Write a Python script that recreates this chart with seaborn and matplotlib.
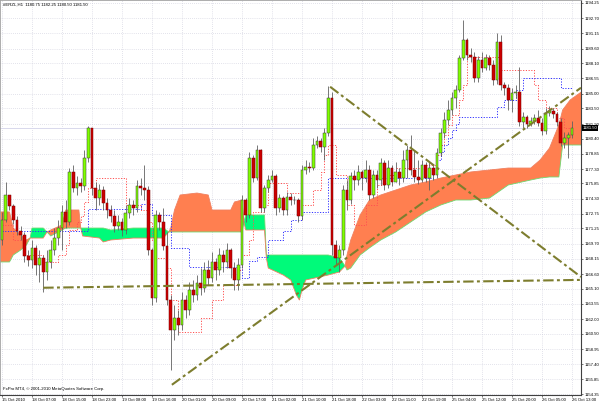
"""
Hourly candlestick chart with an Ichimoku cloud, redrawn from a trading terminal screenshot.
"""

import numpy as np
import pandas as pd
import matplotlib
matplotlib.use("Agg")
import matplotlib.pyplot as plt
import matplotlib.transforms as mtransforms
import seaborn as sns

# Header / footer texts
SYMBOL_TEXT = "#ERZL,H1  1180.75 1182.25 1180.50 1181.50"
COPYRIGHT_TEXT = "FxPro MT4, \u00a9 2001-2010 MetaQuotes Software Corp."

# Candles (one per hour); each open is the previous close
FIRST_OPEN = 1170.1
CLOSES = [
    1172.1, 1174.7, 1173.5, 1172.1, 1171.0, 1170.6, 1168.4, 1168.0, 1169.3, 1167.5,
    1168.2, 1166.8, 1167.8, 1169.1, 1170.3, 1171.3, 1172.9, 1171.9, 1177.0, 1175.4,
    1175.9, 1175.6, 1178.4, 1181.5, 1175.4, 1174.4, 1175.2, 1173.8, 1173.1, 1172.5,
    1171.5, 1171.9, 1171.1, 1172.8, 1173.6, 1173.3, 1175.6, 1175.4, 1175.2, 1169.1,
    1164.2, 1172.6, 1171.9, 1169.5, 1164.0, 1160.9, 1162.1, 1161.4, 1164.0, 1162.9,
    1165.0, 1164.5, 1165.7, 1165.2, 1167.0, 1166.2, 1167.8, 1167.0, 1168.5, 1167.8,
    1169.1, 1167.2, 1166.0, 1167.5, 1174.2, 1172.6, 1178.4, 1176.4, 1179.2, 1173.3,
    1175.4, 1176.2, 1176.6, 1173.3, 1174.4, 1173.1, 1174.5, 1174.1, 1174.2, 1172.5,
    1177.2, 1177.5, 1177.4, 1179.8, 1180.2, 1179.6, 1181.0, 1184.6, 1169.6, 1168.2,
    1169.1, 1175.2, 1174.2, 1176.6, 1176.2, 1177.0, 1176.4, 1177.2, 1174.7, 1176.7,
    1176.2, 1177.9, 1175.7, 1177.4, 1176.0, 1177.0, 1176.4, 1178.2, 1179.2, 1177.2,
    1176.5, 1176.2, 1177.7, 1176.4, 1177.4, 1176.7, 1178.9, 1181.0, 1182.3, 1183.3,
    1184.6, 1185.4, 1188.6, 1190.5, 1188.9, 1188.7, 1186.6, 1188.4, 1187.6, 1188.6,
    1187.9, 1186.4, 1190.3, 1185.9, 1185.6, 1184.4, 1185.1, 1185.2, 1182.1, 1182.6,
    1181.9, 1182.2, 1182.5, 1182.0, 1181.2, 1183.0, 1183.2, 1182.9, 1182.1, 1180.0,
    1180.5, 1180.75, 1181.5,
]
HIGHS = [
    1172.9, 1176.0, 1174.7, 1173.7, 1172.5, 1171.5, 1170.9, 1169.1, 1170.1, 1169.6,
    1169.1, 1168.5, 1169.1, 1170.1, 1171.3, 1172.1, 1173.6, 1174.2, 1177.4, 1177.7,
    1176.6, 1176.4, 1179.2, 1181.7, 1181.5, 1176.0, 1175.8, 1175.6, 1174.4, 1173.6,
    1173.1, 1172.6, 1172.3, 1173.6, 1174.4, 1174.2, 1176.2, 1176.4, 1177.7, 1175.6,
    1169.3, 1173.1, 1172.9, 1173.3, 1170.9, 1164.5, 1163.4, 1162.9, 1164.8, 1164.5,
    1165.8, 1166.0, 1166.5, 1167.2, 1167.8, 1168.0, 1168.8, 1168.2, 1169.3, 1169.1,
    1169.8, 1169.3, 1167.8, 1168.2, 1174.7, 1174.4, 1179.0, 1178.7, 1179.8, 1179.4,
    1175.7, 1176.7, 1177.2, 1176.8, 1174.8, 1174.6, 1175.0, 1174.9, 1174.6, 1174.4,
    1177.7, 1178.2, 1178.0, 1180.5, 1180.7, 1180.5, 1181.5, 1185.8, 1185.2, 1170.1,
    1169.6, 1175.7, 1176.2, 1177.0, 1177.2, 1177.7, 1177.2, 1178.2, 1177.7, 1177.2,
    1177.2, 1178.4, 1178.2, 1178.2, 1177.7, 1178.0, 1177.4, 1179.2, 1179.8, 1180.8,
    1179.2, 1178.2, 1178.2, 1178.0, 1178.0, 1177.7, 1179.5, 1181.5, 1183.1, 1184.4,
    1185.2, 1185.9, 1188.9, 1192.5, 1190.7, 1189.7, 1189.2, 1188.8, 1189.2, 1189.0,
    1188.9, 1188.4, 1191.2, 1191.0, 1186.2, 1186.0, 1185.6, 1185.9, 1187.7, 1183.1,
    1182.8, 1182.6, 1182.9, 1183.3, 1182.5, 1183.5, 1183.7, 1183.5, 1183.1, 1182.5,
    1181.1, 1181.1, 1182.25,
]
LOWS = [
    1169.6, 1171.9, 1173.1, 1171.7, 1170.6, 1170.1, 1167.8, 1167.4, 1167.2, 1166.5,
    1165.8, 1164.8, 1166.0, 1167.2, 1168.5, 1169.6, 1169.1, 1171.3, 1171.6, 1175.0,
    1174.7, 1175.0, 1175.2, 1178.0, 1174.7, 1173.1, 1173.6, 1173.1, 1172.3, 1171.9,
    1170.9, 1171.1, 1170.5, 1170.7, 1172.3, 1172.6, 1172.9, 1174.7, 1174.2, 1168.5,
    1163.4, 1163.7, 1171.1, 1169.1, 1163.4, 1156.8, 1159.9, 1160.4, 1160.9, 1162.1,
    1162.4, 1163.7, 1164.0, 1164.5, 1164.8, 1165.5, 1165.8, 1166.0, 1166.5, 1166.8,
    1167.2, 1166.2, 1165.0, 1165.0, 1167.2, 1171.9, 1172.3, 1176.0, 1176.2, 1172.9,
    1172.9, 1175.0, 1176.0, 1172.6, 1172.9, 1172.6, 1172.6, 1173.6, 1173.7, 1171.9,
    1172.1, 1176.8, 1177.0, 1177.2, 1179.5, 1179.0, 1178.2, 1180.7, 1168.5, 1167.5,
    1166.8, 1168.5, 1173.1, 1173.7, 1175.2, 1175.7, 1175.2, 1176.0, 1174.2, 1174.4,
    1175.4, 1175.7, 1175.2, 1175.4, 1175.6, 1176.4, 1175.7, 1176.0, 1176.4, 1176.7,
    1176.0, 1175.8, 1176.0, 1176.0, 1175.2, 1176.2, 1176.4, 1178.6, 1180.5, 1181.8,
    1182.8, 1183.5, 1185.2, 1188.4, 1188.4, 1188.2, 1186.2, 1186.2, 1187.2, 1187.4,
    1187.4, 1185.9, 1186.0, 1185.4, 1184.9, 1183.3, 1183.1, 1184.6, 1181.7, 1181.5,
    1181.5, 1181.7, 1181.9, 1181.7, 1180.8, 1180.9, 1182.7, 1182.5, 1181.7, 1179.7,
    1179.5, 1178.4, 1180.5,
]

# Tenkan-sen (red dotted) and Kijun-sen (blue dotted): bar where a level starts, level
TENKAN_BARS = [0, 3, 6, 11, 15, 17, 18, 20, 21, 22, 23, 25, 33, 37, 39, 40, 41, 44, 45, 47,
               53, 56, 59, 63, 64, 66, 67, 70, 71, 76, 80, 83, 85, 86, 87, 89, 92, 94, 97, 100,
               102, 105, 113, 116, 117, 118, 119, 120, 122, 123, 124, 133, 142, 143, 145, 148, 150]
TENKAN_VALUES = [1171.6, 1170.1, 1168.5, 1167.8, 1168.5, 1169.6, 1171.1, 1171.9, 1172.5, 1173.9,
                 1175.4, 1176.4, 1173.6, 1173.1, 1171.9, 1170.1, 1168.2, 1167.2, 1164.0, 1160.7,
                 1162.1, 1164.0, 1165.5, 1167.0, 1168.5, 1170.1, 1172.9, 1173.6, 1175.9, 1174.9,
                 1173.6, 1175.2, 1177.0, 1178.7, 1179.8, 1176.7, 1173.6, 1171.6, 1173.6, 1175.7,
                 1176.7, 1177.4, 1177.7, 1178.7, 1179.8, 1180.8, 1181.8, 1182.8, 1184.4, 1185.9,
                 1188.7, 1187.4, 1185.9, 1184.4, 1183.5, 1182.5, 1181.5]
KIJUN_BARS = [0, 23, 37, 40, 45, 50, 64, 66, 68, 71, 75, 77, 80, 87, 115, 116, 117, 118, 119,
              120, 121, 122, 132, 134, 137, 139, 149]
KIJUN_VALUES = [1171.0, 1173.2, 1173.7, 1172.6, 1169.3, 1167.3, 1166.2, 1167.9, 1168.3, 1170.1,
                1171.0, 1172.1, 1172.9, 1176.4, 1177.2, 1178.2, 1179.0, 1179.8, 1180.5,
                1181.3, 1181.9, 1182.6, 1183.6, 1184.35, 1185.4, 1186.6, 1185.6]

# Senkou spans (cloud), sampled at these bar positions
CLOUD_BARS = [-0.6, 2, 3, 5, 6.5, 7.5, 8, 11, 12, 13, 16, 17, 20.5, 21, 21.5, 26, 27, 29, 35, 43,
              44.5, 45, 46, 47.5, 52, 55, 56, 61, 62, 64, 64.5, 65, 70, 70.5, 71, 75, 77, 78.5,
              79.3, 80, 81, 87, 90, 91.5, 92, 93, 95.5, 98, 101, 105, 109, 113, 117, 121, 125,
              130, 135, 141, 143.5, 146, 148.5, 149.5, 151.5, 154.5]
SPAN_A = [1167.83, 1167.83, 1168.54, 1169.05, 1169.56, 1170.27, 1171.29, 1171.29, 1170.89, 1170.48,
          1171.09, 1171.29, 1171.29, 1171.29, 1171.29, 1171.29, 1171.29, 1171.09, 1171.29, 1171.29,
          1170.89, 1170.89, 1170.89, 1170.89, 1170.89, 1170.89, 1170.89, 1170.89, 1170.89, 1170.89,
          1171.91, 1172.62, 1172.62, 1168.54, 1168.54, 1168.54, 1168.54, 1168.54,
          1168.54, 1168.54, 1168.54, 1168.54, 1168.23, 1167.42, 1167.01, 1167.21, 1168.54, 1169.27,
          1170.07, 1170.89, 1171.91, 1172.93, 1173.64, 1174.15, 1174.15, 1174.35, 1175.68, 1176.19,
          1176.39, 1176.50, 1176.50, 1179.76, 1179.76, 1179.76]
SPAN_B = [1172.93, 1172.93, 1171.29, 1170.58, 1170.07, 1170.27, 1170.27, 1170.27, 1170.89, 1171.09,
          1171.60, 1173.13, 1173.13, 1171.29, 1170.48, 1170.27, 1169.87, 1170.07, 1170.27, 1170.27,
          1170.89, 1171.29, 1173.13, 1174.66, 1174.86, 1174.66, 1173.13, 1173.13, 1173.95, 1174.15,
          1171.91, 1171.09, 1171.09, 1168.23, 1167.21, 1166.50, 1165.99, 1164.46,
          1163.95, 1164.97, 1165.99, 1166.50, 1166.81, 1167.42, 1168.54, 1170.07, 1172.62, 1174.15,
          1174.66, 1175.17, 1175.68, 1175.99, 1176.39, 1176.70, 1177.01, 1177.21, 1177.41, 1177.41,
          1178.23, 1179.45, 1181.80, 1183.33, 1184.35, 1185.17]

# Hand-drawn trend lines: (bar, price) end points
TREND_LINES = [
    ([45.3, 154.4], [1155.3, 1185.6]),
    ([87.5, 154.4], [1185.7, 1166.3]),
    ([11.0, 154.4], [1165.2, 1166.0]),
]

# Axis labels
TIME_LABELS = [
    "15 Oct 2010", "18 Oct 07:00", "18 Oct 15:00", "18 Oct 23:00", "19 Oct 08:00",
    "19 Oct 16:00", "20 Oct 01:00", "20 Oct 09:00", "20 Oct 17:00", "21 Oct 02:00",
    "21 Oct 10:00", "21 Oct 18:00", "22 Oct 03:00", "22 Oct 11:00", "22 Oct 19:00",
    "25 Oct 04:00", "25 Oct 12:00", "25 Oct 20:00", "26 Oct 05:00", "26 Oct 13:00",
]
PRICE_TICKS = [
    1194.25, 1192.70, 1191.15, 1189.60, 1188.10, 1186.55, 1185.00, 1183.50, 1181.90,
    1180.40, 1178.85, 1177.30, 1175.85, 1174.30, 1172.75, 1171.25, 1169.70, 1168.15,
    1166.60, 1165.10, 1163.55, 1162.00, 1160.50, 1158.95, 1157.40, 1155.85, 1154.35,
]
LAST_PRICE = 1181.50

# Colours
BULL_COLOR = "#7FFF00"
BEAR_COLOR = "#CC0000"
WICK_COLOR = "#606060"
CLOUD_UP_COLOR = "#FF7F50"
CLOUD_DOWN_COLOR = "#00FA7A"
TENKAN_COLOR = "#FF5050"
KIJUN_COLOR = "#3030FF"
TREND_COLOR = "#7D7D2E"
FONT_SIZE = 3.1


def main():
    sns.set_style("white")
    plt.rcParams["font.family"] = ["Liberation Sans", "DejaVu Sans"]

    fig = plt.figure(figsize=(6.0, 4.04), dpi=100)
    ax = fig.add_axes([0.0, 9 / 404, 581 / 600, 395 / 404])

    closes = np.array(CLOSES)
    opens = np.concatenate([[FIRST_OPEN], closes[:-1]])
    highs = np.maximum(np.array(HIGHS), np.maximum(opens, closes))
    lows = np.minimum(np.array(LOWS), np.minimum(opens, closes))
    bars = np.arange(len(closes))

    # Ichimoku cloud
    kx = np.array(CLOUD_BARS)
    span_a = np.array(SPAN_A)
    span_b = np.array(SPAN_B)
    ax.fill_between(kx, span_a, span_b, where=span_b >= span_a, interpolate=True,
                    color=CLOUD_UP_COLOR, linewidth=0, zorder=1)
    ax.fill_between(kx, span_a, span_b, where=span_a >= span_b, interpolate=True,
                    color=CLOUD_DOWN_COLOR, linewidth=0, zorder=1)
    ax.plot(kx, span_a, color="#70D870", linewidth=0.6, zorder=1.5)
    ax.plot(kx, span_b, color="#F08060", linewidth=0.6, zorder=1.5)

    # Last price line
    ax.axhline(LAST_PRICE, color="#D8D8EC", linewidth=0.7, zorder=0.8)

    # Tenkan / Kijun step lines, carried to the last bar
    last_bar = len(closes) - 1
    for knots, vals, color in [(TENKAN_BARS, TENKAN_VALUES, TENKAN_COLOR),
                               (KIJUN_BARS, KIJUN_VALUES, KIJUN_COLOR)]:
        line_df = pd.DataFrame({"bar": knots + [last_bar], "price": vals + [vals[-1]]})
        sns.lineplot(data=line_df, x="bar", y="price", ax=ax, color=color,
                     linewidth=0.7, linestyle=(0, (1.2, 1.6)), drawstyle="steps-post",
                     sort=False, estimator=None, zorder=2)

    # Candles
    up = closes >= opens
    ax.vlines(bars, lows, highs, color=WICK_COLOR, linewidth=0.6, zorder=3)
    body_low = np.minimum(opens, closes)
    body_h = np.maximum(np.abs(closes - opens), 0.08)
    ax.bar(bars[up], body_h[up], bottom=body_low[up], width=0.72,
           color=BULL_COLOR, edgecolor="#3C3C3C", linewidth=0.35, zorder=4)
    ax.bar(bars[~up], body_h[~up], bottom=body_low[~up], width=0.72,
           color=BEAR_COLOR, edgecolor="#7A0000", linewidth=0.35, zorder=4)

    # Trend lines
    for xs, ys in TREND_LINES:
        sns.lineplot(x=xs, y=ys, ax=ax, color=TREND_COLOR, linewidth=1.5,
                     linestyle=(0, (5, 1.6, 1.4, 1.6)), sort=False, estimator=None, zorder=5)

    # Axes, ticks, grid
    ax.set_xlim(-0.533, 154.4)
    ax.set_ylim(1154.26, 1194.55)
    ax.set_xlabel("")
    ax.set_ylabel("")
    ax.yaxis.tick_right()
    ax.set_yticks(PRICE_TICKS)
    ax.set_yticklabels([f"{p:.2f}" for p in PRICE_TICKS])
    ax.set_xticks(np.arange(0, 8 * len(TIME_LABELS), 8))
    ax.set_xticklabels(TIME_LABELS)
    for lbl in ax.get_xticklabels():
        lbl.set_horizontalalignment("left")
    ax.tick_params(axis="both", labelsize=FONT_SIZE, length=1.5, width=0.5, pad=0.8,
                   color="#404040", labelcolor="black")
    ax.tick_params(axis="y", right=True, left=False, labelright=True, labelleft=False)
    ax.tick_params(axis="x", bottom=True)
    ax.grid(True, color="#C8C8D8", linestyle=(0, (1, 2)), linewidth=0.5)
    ax.set_axisbelow(True)
    for side in ["left", "top"]:
        ax.spines[side].set_color("#A0A0A0")
        ax.spines[side].set_linewidth(0.6)
    for side in ["right", "bottom"]:
        ax.spines[side].set_color("#404040")
        ax.spines[side].set_linewidth(0.8)

    # Texts
    ax.text(0.005, 0.994, SYMBOL_TEXT, transform=ax.transAxes, ha="left", va="top",
            fontsize=FONT_SIZE, color="black")
    ax.text(0.005, 0.016, COPYRIGHT_TEXT, transform=ax.transAxes, ha="left", va="center",
            fontsize=FONT_SIZE, color="black")
    trans = mtransforms.blended_transform_factory(ax.transAxes, ax.transData)
    ax.text(1.003, LAST_PRICE, f"{LAST_PRICE:.2f}", transform=trans, ha="left", va="center",
            fontsize=FONT_SIZE, color="white", zorder=10, clip_on=False,
            bbox=dict(facecolor="black", edgecolor="none", pad=0.5))

    fig.savefig("out.png", dpi=100)


if __name__ == "__main__":
    main()
